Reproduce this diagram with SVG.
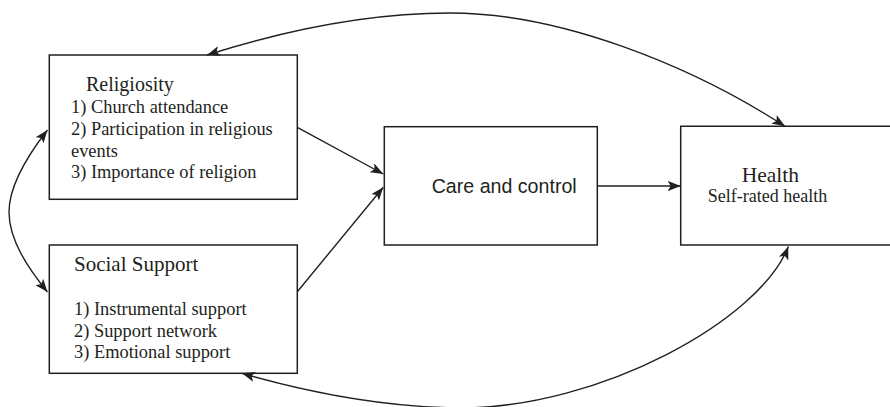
<svg xmlns="http://www.w3.org/2000/svg" width="890" height="407" viewBox="0 0 890 407">
<style>
.box{fill:#fff;stroke:#231f20;stroke-width:1.5}
.edge{fill:none;stroke:#231f20;stroke-width:1.4}
.serif{font-family:"Liberation Serif","Times New Roman",serif;fill:#231f20}
.item{font-size:18.4px}
.head{font-size:20.5px}
.sans{font-family:"Liberation Sans",Arial,sans-serif;fill:#231f20;font-size:20.5px}
</style>
<defs>
<marker id="arr" viewBox="0 0 13 10" refX="13" refY="5" markerWidth="13" markerHeight="10" markerUnits="userSpaceOnUse" orient="auto-start-reverse">
<path d="M0,0 L13,5 L0,10 L3,5 z" fill="#231f20"/>
</marker>
</defs>
<rect width="890" height="407" fill="#fff"/>
<g id="religiosity">
<rect class="box" x="49.3" y="55" width="248" height="144.3"/>
<text class="serif head" x="86" y="90.7" style="font-size:20px">Religiosity</text>
<text class="serif item" x="71" y="113.3">1) Church attendance</text>
<text class="serif item" x="71" y="135">2) Participation in religious</text>
<text class="serif item" x="71" y="156.7">events</text>
<text class="serif item" x="71" y="178.3">3) Importance of religion</text>
</g>
<g id="social_support">
<rect class="box" x="49.3" y="245" width="248" height="128.3"/>
<text class="serif head" x="74" y="271" style="font-size:21px">Social Support</text>
<text class="serif item" x="74" y="315">1) Instrumental support</text>
<text class="serif item" x="74" y="336.7">2) Support network</text>
<text class="serif item" x="74" y="358.3">3) Emotional support</text>
</g>
<g id="care_control">
<rect class="box" x="384.3" y="126.7" width="213" height="118.3"/>
<text class="sans" x="431.7" y="193.3" textLength="145" lengthAdjust="spacingAndGlyphs">Care and control</text>
</g>
<g id="health">
<path class="box" d="M892,126.3 H680.7 V245 H892"/>
<text class="serif" x="741.7" y="181.7" style="font-size:21.5px">Health</text>
<text class="serif" x="707.7" y="202.3" style="font-size:18px">Self-rated health</text>
</g>
<g id="connectors">
<path class="edge" d="M297.3,127.3 L383.3,174" marker-end="url(#arr)"/>
<path class="edge" d="M297.3,291.7 L383.3,187.3" marker-end="url(#arr)"/>
<path class="edge" d="M597.3,186 L680.7,186" marker-end="url(#arr)"/>
<path class="edge" d="M207,55 C270,35 360,13 450,13 C560,13 690,65 785,126.3" marker-start="url(#arr)" marker-end="url(#arr)"/>
<path class="edge" d="M242,373.3 C300,390 380,407 460,408 C600,408 760,320 788.3,246.5" marker-start="url(#arr)" marker-end="url(#arr)"/>
<path class="edge" d="M47.5,130 C28,155 9,185 9,212 C9,240 28,268 47.5,292" marker-start="url(#arr)" marker-end="url(#arr)"/>
</g>
</svg>
